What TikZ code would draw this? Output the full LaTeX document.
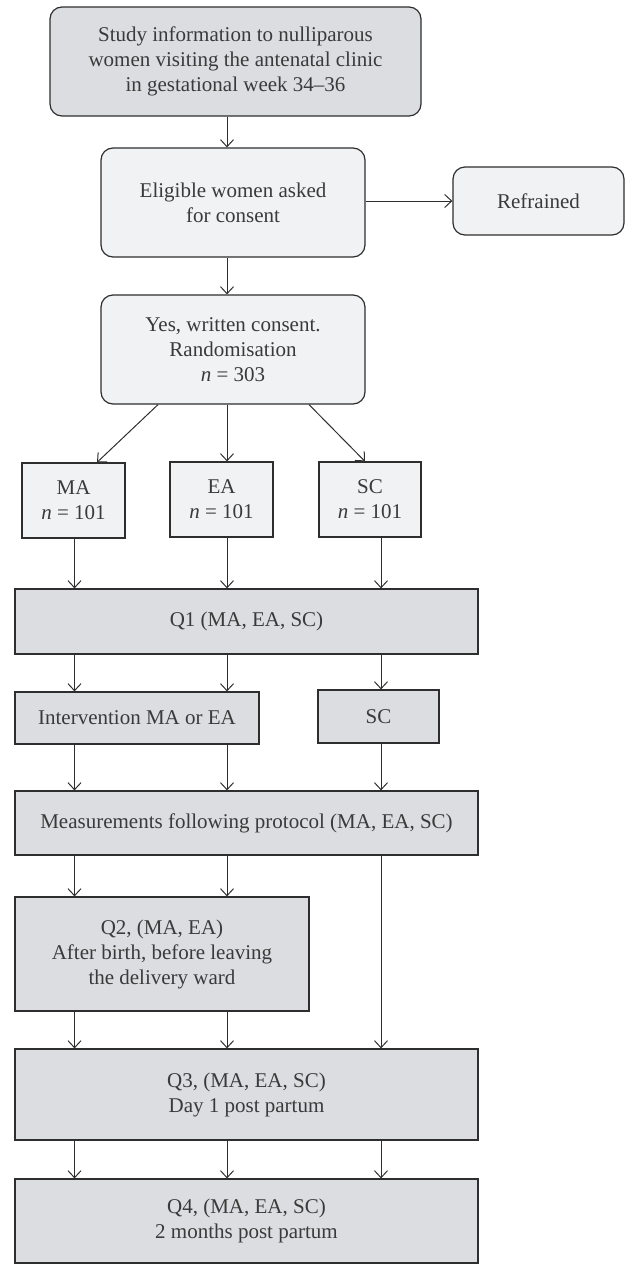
\documentclass[tikz,border=0pt]{standalone}
\usepackage{fontspec}
\setmainfont{Liberation Serif}
\usetikzlibrary{positioning,arrows.meta}
\definecolor{boxdark}{HTML}{DCDDE0}
\definecolor{boxlight}{HTML}{F1F2F4}
\definecolor{edgegray}{HTML}{2E2E2E}
\definecolor{textgray}{HTML}{3A3A3A}

\begin{document}
\begin{tikzpicture}[x=0.5pt,y=-0.5pt,
  font=\fontsize{10.5}{12.5}\selectfont,
  every node/.style={text=textgray, align=center, inner sep=0pt},
  roundbox/.style={draw=edgegray, rounded corners=6pt, line width=0.6pt},
  flatbox/.style={draw=edgegray, line width=0.6pt},
  dark/.style={fill=boxdark},
  light/.style={fill=boxlight},
  flow/.style={draw=edgegray, line width=0.5pt, -{Straight Barb[length=3.5pt,width=6.5pt]}}]
\useasboundingbox (0,0) rectangle (625,1264);

% columns of the connectors
\coordinate (colA) at (74.5,0);
\coordinate (colB) at (227,0);
\coordinate (colC) at (381,0);

% recruitment
\node[roundbox,dark,minimum width=185.5pt,minimum height=54.5pt] (study) at (235.5,61.5)
  {Study information to nulliparous\\women visiting the antenatal clinic\\in gestational week 34--36};
\node[roundbox,light,minimum width=132pt,minimum height=54.5pt] (elig) at (233,202.5)
  {Eligible women asked\\for consent};
\node[roundbox,light,minimum width=85.5pt,minimum height=34pt] (refr) at (538.5,201)
  {Refrained};
\node[roundbox,light,minimum width=132pt,minimum height=54.5pt] (yes) at (233,349.5)
  {Yes, written consent.\\Randomisation\\\textit{n} = 303};

% groups
\node[flatbox,light,minimum width=51.5pt,minimum height=37.5pt] (ma) at (73.5,500.5)
  {MA\\\textit{n} = 101};
\node[flatbox,light,minimum width=51.5pt,minimum height=37.5pt] (ea) at (221.5,499.5)
  {EA\\\textit{n} = 101};
\node[flatbox,light,minimum width=51pt,minimum height=37.5pt] (sc) at (370,499.5)
  {SC\\\textit{n} = 101};

% follow-up
\node[flatbox,dark,minimum width=231.5pt,minimum height=32.5pt] (q1) at (246.5,621.5)
  {Q1 (MA, EA, SC)};
\node[flatbox,dark,minimum width=122pt,minimum height=26pt] (interv) at (137,718)
  {Intervention MA or EA};
\node[flatbox,dark,minimum width=60.5pt,minimum height=26.5pt] (sctwo) at (378.5,716.5)
  {SC};
\node[flatbox,dark,minimum width=231.5pt,minimum height=32pt] (meas) at (246.5,823)
  {Measurements following protocol (MA, EA, SC)};
\node[flatbox,dark,minimum width=147pt,minimum height=57pt] (q2) at (162,954)
  {Q2, (MA, EA)\\After birth, before leaving\\the delivery ward};
\node[flatbox,dark,minimum width=231.5pt,minimum height=45.5pt] (q3) at (246.5,1094.5)
  {Q3, (MA, EA, SC)\\Day 1 post partum};
\node[flatbox,dark,minimum width=231.5pt,minimum height=42pt] (q4) at (246.5,1221)
  {Q4, (MA, EA, SC)\\2 months post partum};

% connectors
\draw[flow] (colB |- study.south) -- (colB |- elig.north);
\draw[flow] (elig.east |- refr) -- (refr.west);
\draw[flow] (colB |- elig.south) -- (colB |- yes.north);
\draw[flow] ([xshift=-37.5pt]yes.south) -- ([xshift=11.75pt]ma.north);
\draw[flow] (colB |- yes.south) -- (colB |- ea.north);
\draw[flow] ([xshift=38pt]yes.south) -- ([xshift=-2.5pt]sc.north);
\foreach \c/\n in {colA/ma, colB/ea, colC/sc}
  \draw[flow] (\c |- \n.south) -- (\c |- q1.north);
\foreach \c/\n in {colA/interv, colB/interv, colC/sctwo}{
  \draw[flow] (\c |- q1.south) -- (\c |- \n.north);
  \draw[flow] (\c |- \n.south) -- (\c |- meas.north);
}
\foreach \c in {colA, colB}{
  \draw[flow] (\c |- meas.south) -- (\c |- q2.north);
  \draw[flow] (\c |- q2.south) -- (\c |- q3.north);
}
\draw[flow] (colC |- meas.south) -- (colC |- q3.north);
\foreach \c in {colA, colB, colC}
  \draw[flow] (\c |- q3.south) -- (\c |- q4.north);
\end{tikzpicture}
\end{document}
